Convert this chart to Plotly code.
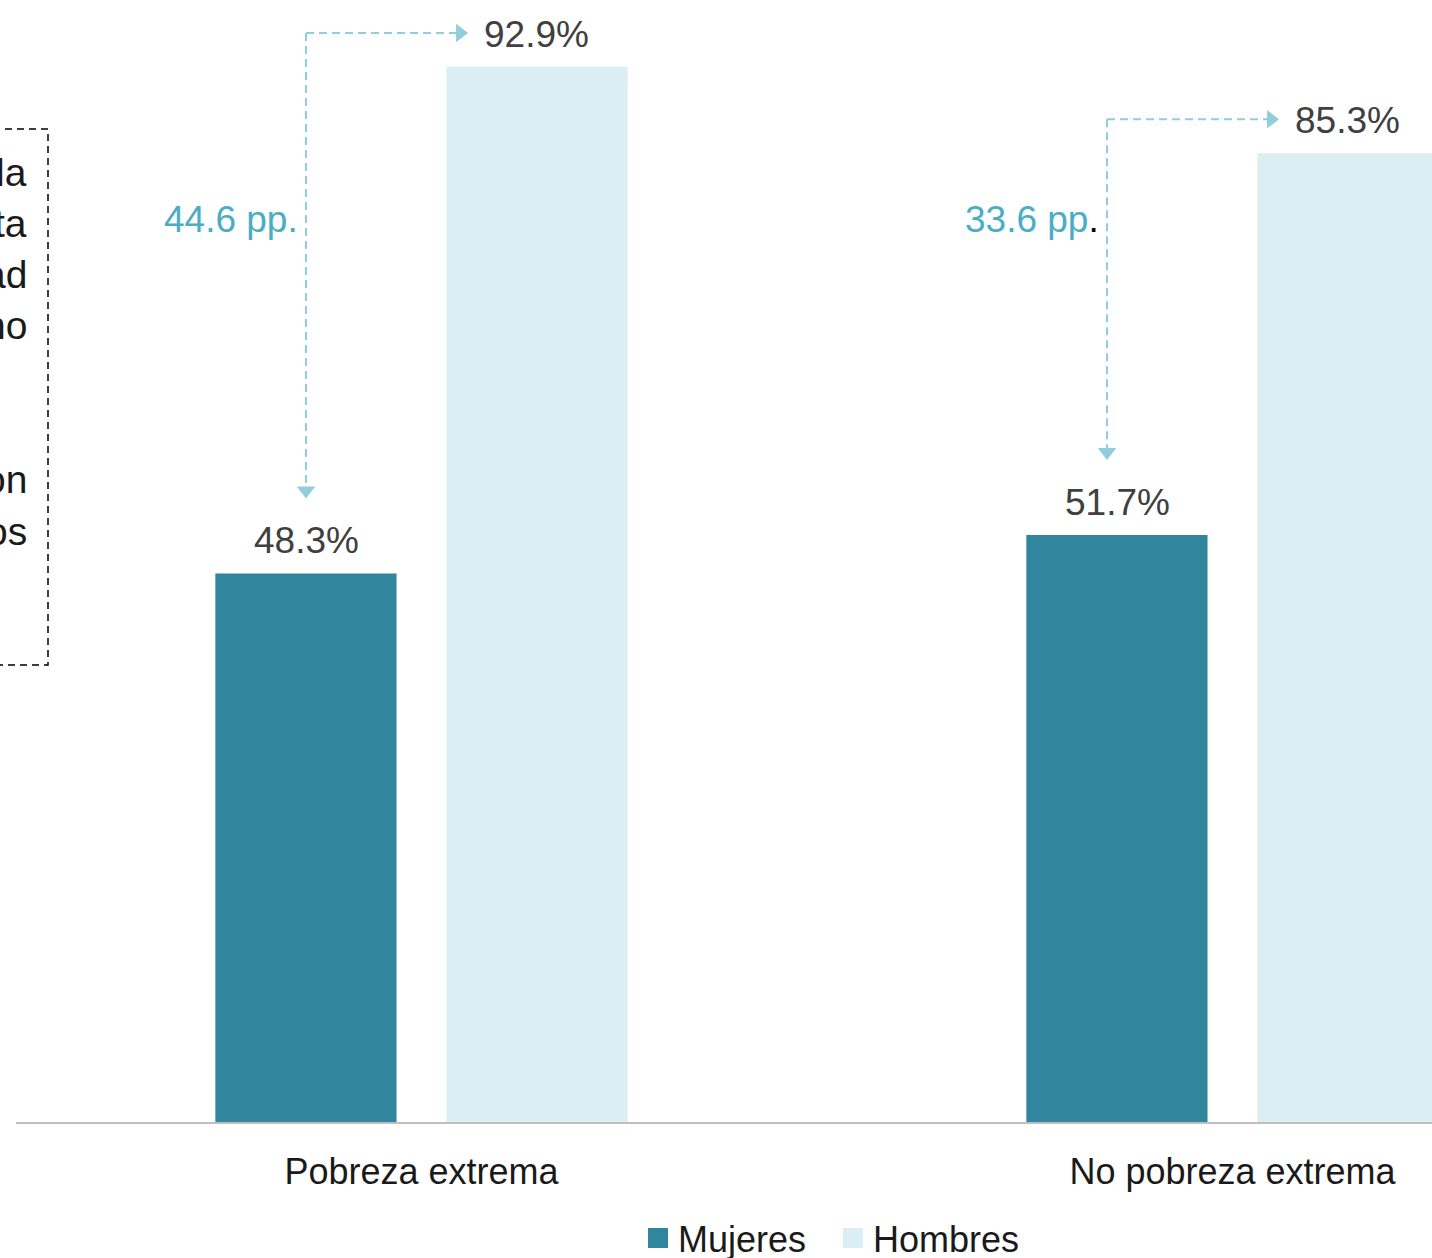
import plotly.graph_objects as go

categories = ["Pobreza extrema", "No pobreza extrema"]
mujeres = [48.3, 51.7]
hombres = [92.9, 85.3]
gap_labels = ["44.6 pp.", "33.6 pp"]
series_names = ["Mujeres", "Hombres"]
box_fragments = ["la", "ta", "ad", "no", "", "", "on", "os"]

C_MUJ = "#31859C"
C_HOM = "#DAEEF3"
C_ARROW = "#92CDDC"
C_PP = "#4BACC6"
FONT = "Liberation Sans, Arial, sans-serif"

W, H = 1432, 1258
ML, MB = 16, 136
PLOT_H = H - MB
PLOT_W = W - ML
XR = [-0.5, 1.246]
YR = [0, 98.8]
OFF = 0.1424  # half distance between bar centers in a group
px_x = PLOT_W / (XR[1] - XR[0])
px_y = PLOT_H / (YR[1] - YR[0])

x = list(range(len(categories)))
fig = go.Figure()
fig.add_trace(go.Bar(x=x, y=mujeres, name=series_names[0], marker_color=C_MUJ,
                     marker_line_width=0, showlegend=False, hoverinfo="skip"))
fig.add_trace(go.Bar(x=x, y=hombres, name=series_names[1], marker_color=C_HOM,
                     marker_line_width=0, showlegend=False, hoverinfo="skip"))
# legend entries with larger swatches
for nm, col in zip(series_names, [C_MUJ, C_HOM]):
    fig.add_trace(go.Scatter(x=[None], y=[None], mode="markers", name=nm,
                             marker=dict(symbol="square", size=16, color=col,
                                         line=dict(color=col, width=4))))

annotations = []
shapes = []
arrow_x, arrow_y, arrow_sym = [], [], []
for i in x:
    xm = i - OFF
    xh = i + OFF
    # value labels
    annotations.append(dict(x=xm, y=mujeres[i], xref="x", yref="y", text=f"{mujeres[i]:.1f}%",
                            showarrow=False, yanchor="bottom", yshift=10,
                            font=dict(size=37, color="#404040", family=FONT)))
    annotations.append(dict(x=xh, y=hombres[i], xref="x", yref="y", text=f"{hombres[i]:.1f}%",
                            showarrow=False, yanchor="bottom", yshift=10,
                            font=dict(size=37, color="#404040", family=FONT)))
    ytop = hombres[i] + 3.0
    ytip = mujeres[i] + 6.6
    xline = xm - (10 / px_x if i == 1 else 0)
    xtip = xh - 0.085
    r = 8
    shapes.append(dict(type="line", xref="x", yref="y", x0=xline, x1=xline, y0=ytop, y1=ytip + r / px_y,
                       line=dict(color=C_ARROW, width=2, dash="8px,5px")))
    shapes.append(dict(type="line", xref="x", yref="y", x0=xline, x1=xtip - r / px_x, y0=ytop, y1=ytop,
                       line=dict(color=C_ARROW, width=2, dash="8px,5px")))
    arrow_x += [xline, xtip - r / px_x]
    arrow_y += [ytip + r / px_y, ytop]
    arrow_sym += ["triangle-down", "triangle-right"]
    txt = gap_labels[i]
    if not txt.endswith("."):
        txt = txt + "<span style='color:#000000'>.</span>"
    annotations.append(dict(x=xline, y=79.5, xref="x", yref="y", text=txt, showarrow=False,
                            xanchor="right", xshift=-6,
                            font=dict(size=37, color=C_PP, family=FONT)))

fig.add_trace(go.Scatter(x=arrow_x, y=arrow_y, mode="markers", showlegend=False, hoverinfo="skip",
                         marker=dict(symbol=arrow_sym, size=16, color=C_ARROW), cliponaxis=False))

# partially visible dashed text box on the left edge
def px2paper_x(p):
    return (p - ML) / PLOT_W

def py2paper_y(p):
    return (PLOT_H - p) / PLOT_H

shapes.append(dict(type="rect", xref="paper", yref="paper",
                   x0=px2paper_x(-40), x1=px2paper_x(48), y0=py2paper_y(665), y1=py2paper_y(129),
                   line=dict(color="#000000", width=1.5, dash="7px,5px"), fillcolor="rgba(0,0,0,0)",
                   layer="above"))
for k, frag in enumerate(box_fragments):
    if not frag:
        continue
    annotations.append(dict(x=px2paper_x(29), y=py2paper_y(172 + 51.3 * k), xref="paper", yref="paper",
                            text=frag, showarrow=False, xanchor="right", yanchor="middle",
                            font=dict(size=39, color="#1a1a1a", family=FONT)))

fig.update_layout(
    width=W, height=H,
    margin=dict(l=ML, r=0, t=0, b=MB, autoexpand=False),
    paper_bgcolor="white", plot_bgcolor="white",
    barmode="group", bargap=0.43, bargroupgap=0.216,
    font=dict(family=FONT, color="#1a1a1a"),
    xaxis=dict(range=XR, tickvals=x, ticktext=categories, showgrid=False, zeroline=False,
               showline=True, linecolor="#BFBFBF", linewidth=1.5, ticks="", automargin=False,
               tickfont=dict(size=36, color="#1a1a1a", family=FONT), ticklabelstandoff=17),
    yaxis=dict(range=YR, visible=False, showgrid=False, zeroline=False, automargin=False),
    legend=dict(orientation="h", x=px2paper_x(833), xanchor="center", y=py2paper_y(1238),
                yanchor="middle", font=dict(size=36, color="#1a1a1a", family=FONT),
                bgcolor="rgba(0,0,0,0)", entrywidth=150, entrywidthmode="pixels"),
    shapes=shapes,
    annotations=annotations,
    showlegend=True,
)

fig.write_html("out.html", config={"displayModeBar": False},
               post_script="document.body.style.margin='0';document.body.style.overflow='hidden';")
